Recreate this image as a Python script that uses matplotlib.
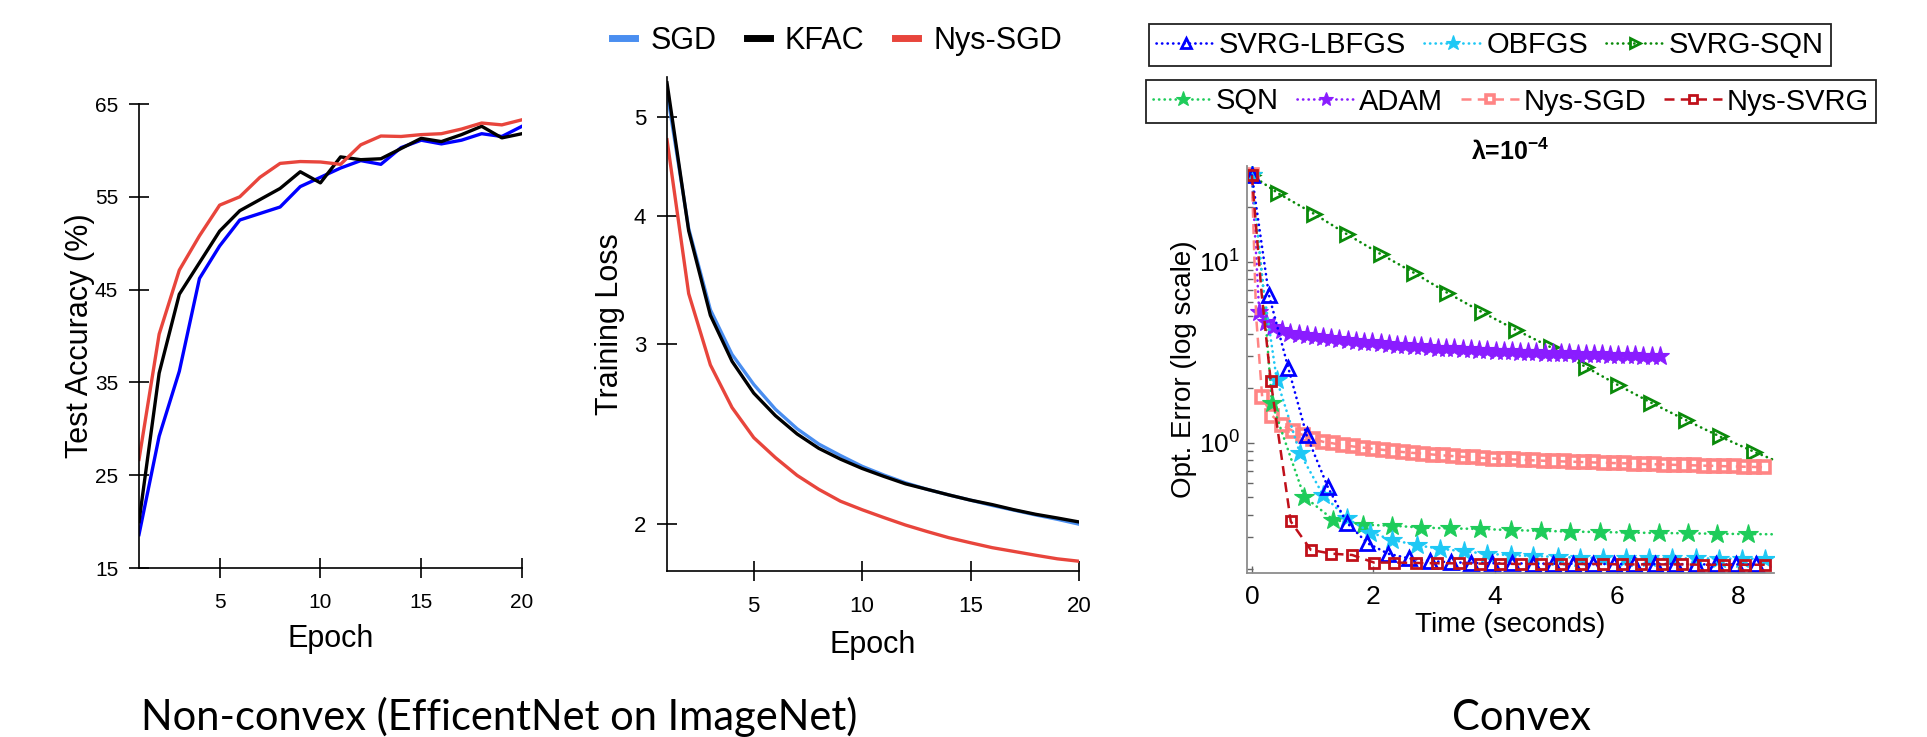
import matplotlib
matplotlib.use("Agg")
import matplotlib.pyplot as plt
from matplotlib import font_manager
from matplotlib.lines import Line2D
from matplotlib.ticker import LogLocator, NullLocator, NullFormatter

# ------------------ Config ------------------
OUT_FIG = "out.png"
W, H = 1927, 737
DPI = 100

_names = {f.name for f in font_manager.fontManager.ttflist}
SANS = "Liberation Sans"
NARROW = "Liberation Sans Narrow" if "Liberation Sans Narrow" in _names else SANS
CAPTION = "Lato" if "Lato" in _names else "DejaVu Sans"
# --------------------------------------------

# ---- panel 1: test accuracy (EfficientNet / ImageNet) ----
epochs = list(range(1, 21))
acc_sgd = [18.6, 29.2, 36.2, 46.2, 49.7, 52.5, 53.2, 53.9, 56.1, 57.1,
           58.1, 58.9, 58.5, 60.3, 61.1, 60.7, 61.1, 61.8, 61.5, 62.6]
acc_kfac = [20.0, 36.0, 44.5, 47.9, 51.3, 53.5, 54.7, 55.9, 57.7, 56.5,
            59.3, 59.0, 59.1, 60.2, 61.3, 60.95, 61.7, 62.6, 61.35, 61.8]
acc_nys = [26.7, 40.2, 47.1, 50.8, 54.1, 55.0, 57.1, 58.6, 58.8, 58.75,
           58.5, 60.6, 61.55, 61.5, 61.7, 61.8, 62.3, 62.95, 62.75, 63.3]

# ---- panel 2: training loss ----
loss_sgd = [5.29, 3.89, 3.24, 2.93, 2.739, 2.59, 2.479, 2.395, 2.334, 2.278,
            2.234, 2.195, 2.163, 2.136, 2.111, 2.086, 2.064, 2.042, 2.022, 2.00]
loss_kfac = [5.40, 3.87, 3.20, 2.885, 2.686, 2.553, 2.45, 2.372, 2.315, 2.267,
             2.227, 2.19, 2.163, 2.136, 2.111, 2.09, 2.066, 2.045, 2.028, 2.01]
loss_nys = [4.75, 3.36, 2.862, 2.60, 2.43, 2.323, 2.232, 2.163, 2.106, 2.066,
            2.03, 1.996, 1.967, 1.94, 1.918, 1.897, 1.881, 1.865, 1.85, 1.84]

# ---- panel 3: convex problem, opt. error vs time ----
t_lbfgs = [0, 0.14, 0.28, 0.60, 0.90, 1.25, 1.56, 1.90, 2.24, 2.58, 2.93, 3.27,
           3.61, 3.95, 4.28, 4.62, 4.95, 5.29, 5.62, 5.96, 6.29, 6.63, 6.96,
           7.30, 7.63, 7.97, 8.30]
e_lbfgs = [30, 14, 6.55, 2.58, 1.10, 0.567, 0.361, 0.278, 0.243, 0.229, 0.221, 0.218,
           0.216, 0.215, 0.215, 0.214, 0.214, 0.214, 0.213, 0.213, 0.213, 0.213, 0.213,
           0.212, 0.212, 0.212, 0.212]

t_obfgs = [0, 0.18, 0.41, 0.79, 1.17, 1.56, 1.95, 2.31, 2.72, 3.09, 3.49, 3.87,
           4.27, 4.63, 5.04, 5.40, 5.78, 6.16, 6.54, 6.91, 7.30, 7.69, 8.07, 8.45, 8.59]
e_obfgs = [30, 7.5, 2.22, 0.874, 0.514, 0.382, 0.318, 0.290, 0.270, 0.259, 0.250, 0.243,
           0.238, 0.236, 0.233, 0.231, 0.230, 0.230, 0.229, 0.229, 0.229, 0.228, 0.228,
           0.228, 0.228]

t_svrgsqn = [0, 0.43, 1.02, 1.56, 2.12, 2.66, 3.21, 3.79, 4.34, 4.92, 5.49, 6.02,
             6.57, 7.14, 7.70, 8.26, 8.59]
e_svrgsqn = [30, 23.9, 18.4, 14.2, 11.0, 8.7, 6.74, 5.25, 4.2, 3.36, 2.62, 2.08,
             1.66, 1.33, 1.08, 0.89, 0.80]

t_sqn = [0, 0.18, 0.33, 0.86, 1.34, 1.83, 2.31, 2.78, 3.26, 3.76, 4.26, 4.75,
         5.23, 5.72, 6.20, 6.69, 7.17, 7.66, 8.16, 8.59]
e_sqn = [30, 7.6, 1.65, 0.503, 0.374, 0.351, 0.347, 0.339, 0.335, 0.333, 0.328, 0.325,
         0.322, 0.320, 0.318, 0.316, 0.315, 0.313, 0.312, 0.311]

t_adam = [0, 0.06, 0.12, 0.23, 0.35, 0.49, 0.63,
          0.77, 0.90, 1.04, 1.17, 1.31, 1.44, 1.58, 1.71, 1.85, 1.98,
          2.12, 2.25, 2.39, 2.52, 2.66, 2.79, 2.93, 3.06, 3.20, 3.33,
          3.47, 3.60, 3.74, 3.87, 4.01, 4.14, 4.28, 4.41, 4.55, 4.68,
          4.82, 4.95, 5.09, 5.22, 5.36, 5.49, 5.63, 5.76, 5.90, 6.03,
          6.17, 6.30, 6.44, 6.58, 6.72]
e_adam = [30, 12.6, 5.3, 4.66, 4.37, 4.2, 4.05,
          3.97, 3.91, 3.86, 3.81, 3.77, 3.73, 3.69, 3.65, 3.61, 3.58,
          3.54, 3.51, 3.48, 3.45, 3.42, 3.40, 3.37, 3.35, 3.33, 3.31,
          3.29, 3.27, 3.25, 3.24, 3.22, 3.21, 3.19, 3.18, 3.17, 3.15,
          3.14, 3.13, 3.12, 3.11, 3.10, 3.09, 3.08, 3.07, 3.06, 3.05,
          3.04, 3.03, 3.02, 3.01, 3.00]

t_nyssgd = [0, 0.07, 0.17, 0.33, 0.50, 0.67, 0.84, 1.00, 1.17, 1.33, 1.50, 1.66,
            1.83, 1.99, 2.16, 2.32, 2.49, 2.65, 2.82, 2.98, 3.15, 3.31,
            3.48, 3.64, 3.81, 3.97, 4.14, 4.30, 4.47, 4.63, 4.80, 4.96,
            5.13, 5.29, 5.46, 5.62, 5.79, 5.95, 6.12, 6.28, 6.45, 6.61,
            6.78, 6.94, 7.11, 7.27, 7.44, 7.60, 7.77, 7.93, 8.10, 8.26, 8.43]
e_nyssgd = [30, 5.0, 1.78, 1.41, 1.25, 1.16, 1.10, 1.05, 1.01, 0.99, 0.968, 0.952,
            0.937, 0.924, 0.911, 0.897, 0.886, 0.876, 0.867, 0.858, 0.849, 0.841,
            0.834, 0.828, 0.822, 0.816, 0.811, 0.806, 0.802, 0.797, 0.793, 0.789,
            0.786, 0.783, 0.779, 0.776, 0.773, 0.770, 0.767, 0.764, 0.761, 0.758,
            0.756, 0.753, 0.750, 0.748, 0.745, 0.743, 0.740, 0.738, 0.735, 0.733, 0.730]

t_nyssvrg = [0, 0.16, 0.31, 0.64, 0.97, 1.31, 1.65, 2.01, 2.34, 2.70, 3.05, 3.40,
             3.75, 4.09, 4.42, 4.76, 5.09, 5.42, 5.77, 6.09, 6.41, 6.74, 7.07,
             7.42, 7.76, 8.11, 8.45]
e_nyssvrg = [30, 6.7, 2.19, 0.366, 0.255, 0.243, 0.239, 0.217, 0.217, 0.216, 0.215, 0.215,
             0.214, 0.214, 0.213, 0.213, 0.213, 0.213, 0.213, 0.212, 0.212, 0.212, 0.212,
             0.211, 0.211, 0.211, 0.211]

# points that only bend the line (no marker drawn in the original)
SKIP = {
    "SVRG-LBFGS": [1],
    "OBFGS": [1, 24],
    "SVRG-SQN": [16],
    "SQN": [1, 19],
    "ADAM": [1],
    "Nys-SGD": [1],
    "Nys-SVRG": [1],
}


def box(x0, y0, x1, y1):
    # pixel box (top-left origin) -> figure fraction rect
    return [x0 / W, 1 - y1 / H, (x1 - x0) / W, (y1 - y0) / H]


def marks(name, n):
    return [i for i in range(n) if i not in SKIP[name]]


def style_epoch_axis(ax):
    for s in ["top", "right"]:
        ax.spines[s].set_visible(False)
    for s in ["left", "bottom"]:
        ax.spines[s].set_linewidth(1.2)
    ax.tick_params(direction="inout", length=14, width=1.2, pad=8,
                   labelfontfamily=SANS)
    ax.tick_params(axis="x", pad=11)


def main():
    plt.rcParams["font.family"] = [SANS, "DejaVu Sans"]
    plt.rcParams["mathtext.fontset"] = "custom"
    plt.rcParams["mathtext.rm"] = NARROW
    plt.rcParams["mathtext.bf"] = NARROW + ":bold"
    plt.rcParams["mathtext.it"] = NARROW + ":italic"

    fig = plt.figure(figsize=(W / DPI, H / DPI), dpi=DPI)

    # ---- left: test accuracy ----
    ax1 = fig.add_axes(box(139, 104, 522, 568))
    ax1.plot(epochs, acc_sgd, color="#0000ff", lw=2.4)
    ax1.plot(epochs, acc_kfac, color="black", lw=2.4)
    ax1.plot(epochs, acc_nys, color="#e8453c", lw=2.4)
    ax1.set_xlim(1, 20)
    ax1.set_ylim(15, 65)
    ax1.set_xticks([5, 10, 15, 20])
    ax1.set_yticks([15, 25, 35, 45, 55, 65])
    style_epoch_axis(ax1)
    ax1.tick_params(labelsize=15)
    ax1.set_xlabel("Epoch", fontsize=22, labelpad=9)
    ax1.set_ylabel("Test Accuracy (%)", fontsize=22, labelpad=0)

    # ---- middle: training loss (log y) ----
    ax2 = fig.add_axes(box(667, 77, 1079, 571))
    ax2.plot(epochs, loss_sgd, color="#4a8ef0", lw=2.4)
    ax2.plot(epochs, loss_kfac, color="black", lw=2.4)
    ax2.plot(epochs, loss_nys, color="#e8453c", lw=2.4)
    ax2.set_yscale("log")
    ax2.set_xlim(1, 20)
    ax2.set_ylim(1.80, 5.47)
    ax2.set_xticks([5, 10, 15, 20])
    ax2.set_yticks([2, 3, 4, 5])
    ax2.set_yticklabels(["2", "3", "4", "5"])
    ax2.yaxis.set_minor_locator(NullLocator())
    style_epoch_axis(ax2)
    ax2.tick_params(labelsize=16)
    ax2.set_xlabel("Epoch", fontsize=22, labelpad=9)
    ax2.set_ylabel("Training Loss", fontsize=22, labelpad=6)

    proxies = [Line2D([], [], color=c, lw=5) for c in ["#4a8ef0", "black", "#e8453c"]]
    ax2.legend(proxies, ["SGD", "KFAC", "Nys-SGD"], loc="center left",
               bbox_to_anchor=(612 / W, 1 - 41 / H), bbox_transform=fig.transFigure,
               ncol=3, frameon=False, fontsize=22, handlelength=0.75,
               handletextpad=0.5, columnspacing=1.0, borderpad=0, borderaxespad=0)

    # ---- right: convex, opt. error ----
    ax3 = fig.add_axes(box(1247, 165.5, 1774, 573))
    dot = dict(ls=(0, (0.1, 2.0)), dash_capstyle="round", lw=1.9)
    dash = dict(ls=(0, (4, 2.5)), lw=1.8)
    h = {}
    h["SVRG-SQN"], = ax3.plot(t_svrgsqn, e_svrgsqn, color="#0a8a0a",
                              marker=">", mfc="none", ms=10, mew=2.0,
                              markevery=marks("SVRG-SQN", len(t_svrgsqn)), **dot)
    h["ADAM"], = ax3.plot(t_adam, e_adam, color="#8a1cff", marker="*",
                          ms=14, mew=0.8,
                          markevery=marks("ADAM", len(t_adam)), **dot)
    h["Nys-SGD"], = ax3.plot(t_nyssgd, e_nyssgd, color="#ff8585",
                             marker="s", mfc="none", ms=8, mew=2.6,
                             markevery=marks("Nys-SGD", len(t_nyssgd)), **dash)
    h["SQN"], = ax3.plot(t_sqn, e_sqn, color="#1ecc5a", marker="*",
                         ms=15, mew=0.8,
                         markevery=marks("SQN", len(t_sqn)), **dot)
    h["OBFGS"], = ax3.plot(t_obfgs, e_obfgs, color="#1ec8f5", marker="*",
                           ms=15, mew=0.8,
                           markevery=marks("OBFGS", len(t_obfgs)), **dot)
    h["SVRG-LBFGS"], = ax3.plot(t_lbfgs, e_lbfgs, color="#0000ff",
                                marker="^", mfc="none", ms=10, mew=2.0,
                                markevery=marks("SVRG-LBFGS", len(t_lbfgs)), **dot)
    h["Nys-SVRG"], = ax3.plot(t_nyssvrg, e_nyssvrg, color="#c0101a",
                              marker="s", mfc="none", ms=7.5, mew=2.0,
                              markevery=marks("Nys-SVRG", len(t_nyssvrg)), **dash)

    ax3.set_yscale("log")
    ax3.set_xlim(-0.08, 8.59)
    ax3.set_ylim(0.19, 34)
    ax3.set_xticks([0, 2, 4, 6, 8])
    ax3.yaxis.set_major_locator(LogLocator(base=10))
    ax3.yaxis.set_minor_locator(LogLocator(base=10, subs=range(2, 10)))
    ax3.yaxis.set_minor_formatter(NullFormatter())
    for s in ["top", "right"]:
        ax3.spines[s].set_visible(False)
    for s in ["left", "bottom"]:
        ax3.spines[s].set_color("#8c8c8c")
        ax3.spines[s].set_linewidth(1.3)
    ax3.tick_params(which="both", direction="in", color="#666666", width=1,
                    labelsize=19, labelfontfamily=NARROW, pad=9)
    ax3.tick_params(axis="y", which="both", pad=5)
    ax3.tick_params(which="major", length=5)
    ax3.tick_params(which="minor", length=4)
    ax3.set_xlabel("Time (seconds)", fontsize=20, family=NARROW, labelpad=2)
    ax3.set_ylabel("Opt. Error (log scale)", fontsize=20, family=NARROW, labelpad=1)
    ax3.set_title(r"λ=10$^{\mathbf{-4}}$", fontsize=18, fontweight="bold",
                  family=NARROW, pad=4)

    leg_kw = dict(fontsize=21, handlelength=2.0, handletextpad=0.15,
                  columnspacing=0.6, borderpad=0.25, borderaxespad=0,
                  fancybox=False, edgecolor="#222222", framealpha=1,
                  markerscale=0.75)
    row1 = ["SVRG-LBFGS", "OBFGS", "SVRG-SQN"]
    row2 = ["SQN", "ADAM", "Nys-SGD", "Nys-SVRG"]
    leg1 = fig.legend([h[k] for k in row1], row1, loc="center", ncol=3,
                      bbox_to_anchor=(1490 / W, 1 - 45 / H), **leg_kw)
    leg2 = fig.legend([h[k] for k in row2], row2, loc="center", ncol=4,
                      bbox_to_anchor=(1511 / W, 1 - 101.5 / H), **leg_kw)
    for leg in (leg1, leg2):
        leg.get_frame().set_linewidth(1.3)

    # ---- captions ----
    fig.text(141 / W, 1 - 730 / H, "Non-convex (EfficentNet on ImageNet)",
             fontsize=30, family=CAPTION, ha="left", va="baseline")
    fig.text(1521 / W, 1 - 730 / H, "Convex",
             fontsize=30, family=CAPTION, ha="center", va="baseline")

    fig.savefig(OUT_FIG, dpi=DPI)
    plt.close(fig)


if __name__ == "__main__":
    main()
